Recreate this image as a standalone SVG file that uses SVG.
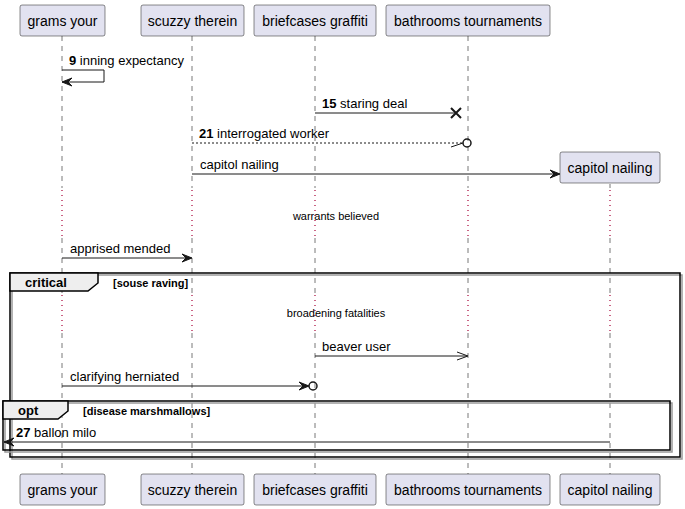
<svg xmlns="http://www.w3.org/2000/svg" width="685" height="509" viewBox="0 0 685 509">
<style>
text{font-family:"Liberation Sans",Arial,sans-serif;fill:#000}
.pt{font-size:14px;text-anchor:middle}
.m{font-size:13px}
.b{font-weight:bold}
.d{font-size:11px;text-anchor:middle}
.box{fill:#E2E2F0;stroke:#181818;stroke-width:0.5}
.life{stroke:#555;stroke-width:0.8;stroke-dasharray:5,5;fill:none}
.delay{stroke:#A80036;stroke-width:1.2;stroke-dasharray:1,4;fill:none}
.msg{stroke:#181818;stroke-width:1;fill:none}
.dash{stroke:#181818;stroke-width:1;stroke-dasharray:2,2;fill:none}
.head{fill:#181818;stroke:#181818;stroke-width:1}
.frame{fill:none;stroke:#000;stroke-width:1.5}
.shadow{fill:none;stroke:#999;stroke-width:1.5}
.tab{fill:#EEEEEE;stroke:#000;stroke-width:1.5}
.ft{font-size:13px;font-weight:bold}
.fg{font-size:11px;font-weight:bold}
</style>
<g id="lifelines">
<line class="life" x1="62" y1="36" x2="62" y2="188"/><line class="life" x1="62" y1="238" x2="62" y2="293"/><line class="life" x1="62" y1="333" x2="62" y2="474"/>
<line class="life" x1="192" y1="36" x2="192" y2="188"/><line class="life" x1="192" y1="238" x2="192" y2="293"/><line class="life" x1="192" y1="333" x2="192" y2="474"/>
<line class="life" x1="315" y1="36" x2="315" y2="188"/><line class="life" x1="315" y1="238" x2="315" y2="293"/><line class="life" x1="315" y1="333" x2="315" y2="474"/>
<line class="life" x1="468" y1="36" x2="468" y2="188"/><line class="life" x1="468" y1="238" x2="468" y2="293"/><line class="life" x1="468" y1="333" x2="468" y2="474"/>
<line class="life" x1="610" y1="184" x2="610" y2="188"/><line class="life" x1="610" y1="238" x2="610" y2="293"/><line class="life" x1="610" y1="333" x2="610" y2="474"/>
<line class="delay" x1="62" y1="190" x2="62" y2="238"/><line class="delay" x1="192" y1="190" x2="192" y2="238"/><line class="delay" x1="315" y1="190" x2="315" y2="238"/><line class="delay" x1="468" y1="190" x2="468" y2="238"/><line class="delay" x1="610" y1="190" x2="610" y2="238"/>
<line class="delay" x1="62" y1="295" x2="62" y2="333"/><line class="delay" x1="192" y1="295" x2="192" y2="333"/><line class="delay" x1="315" y1="295" x2="315" y2="333"/><line class="delay" x1="468" y1="295" x2="468" y2="333"/><line class="delay" x1="610" y1="295" x2="610" y2="333"/>
</g>
<g id="frames">
<rect class="shadow" x="12" y="275" width="670" height="184"/>
<rect class="frame" x="10" y="273" width="670" height="184"/>
<polygon class="tab" points="10,273 98,273 98,283 88,291 10,291"/>
<text class="ft" x="25" y="287">critical</text>
<text class="fg" x="113" y="287">[souse raving]</text>
<rect class="shadow" x="5" y="403" width="667" height="49"/>
<rect class="frame" x="3" y="401" width="667" height="49"/>
<polygon class="tab" points="3,401 68,401 68,411 58,419 3,419"/>
<text class="ft" x="18" y="415">opt</text>
<text class="fg" x="83" y="415">[disease marshmallows]</text>
</g>
<g id="connectors">
<polyline class="msg" points="62,70 104,70 104,82 62,82"/>
<polygon class="head" points="72,78 62,82 72,86 68,82"/>
<text class="m" x="69" y="65"><tspan class="b">9</tspan> inning expectancy</text>
<line class="msg" x1="315" y1="113" x2="456" y2="113"/>
<path d="M451,108 L461,118 M451,118 L461,108" stroke="#181818" stroke-width="2" fill="none"/>
<text class="m" x="322" y="108"><tspan class="b">15</tspan> staring deal</text>
<line class="dash" x1="192" y1="143" x2="463" y2="143"/>
<line class="msg" x1="451" y1="147" x2="463" y2="143"/>
<circle cx="467" cy="143" r="4" fill="none" stroke="#181818" stroke-width="1.5"/>
<text class="m" x="199" y="138"><tspan class="b">21</tspan> interrogated worker</text>
<line class="msg" x1="192" y1="174" x2="559" y2="174"/>
<polygon class="head" points="550,170 560,174 550,178 554,174"/>
<text class="m" x="200" y="169">capitol nailing</text>
<text class="d" x="336" y="220">warrants believed</text>
<line class="msg" x1="62" y1="258" x2="191" y2="258"/>
<polygon class="head" points="182,254 192,258 182,262 186,258"/>
<text class="m" x="70" y="253">apprised mended</text>
<text class="d" x="336" y="317">broadening fatalities</text>
<line class="msg" x1="315" y1="356" x2="467" y2="356"/>
<polyline class="msg" points="457,352 468,356 457,360"/>
<text class="m" x="322" y="351">beaver user</text>
<line class="msg" x1="62" y1="386" x2="308" y2="386"/>
<polygon class="head" points="299,382 309,386 299,390 303,386"/>
<circle cx="313" cy="386" r="4" fill="none" stroke="#181818" stroke-width="1.5"/>
<text class="m" x="70" y="381">clarifying herniated</text>
<line class="msg" x1="610" y1="442" x2="4" y2="442"/>
<polygon class="head" points="14,438 4,442 14,446 10,442"/>
<text class="m" x="16" y="437"><tspan class="b">27</tspan> ballon milo</text>
</g>
<g id="p1"><rect class="box" x="20" y="5" width="85" height="31" rx="2"/><text class="pt" x="62.5" y="26">grams your</text>
<rect class="box" x="20" y="474" width="85" height="31" rx="2"/><text class="pt" x="62.5" y="495">grams your</text></g>
<g id="p2"><rect class="box" x="141" y="5" width="103" height="31" rx="2"/><text class="pt" x="192.5" y="26">scuzzy therein</text>
<rect class="box" x="141" y="474" width="103" height="31" rx="2"/><text class="pt" x="192.5" y="495">scuzzy therein</text></g>
<g id="p3"><rect class="box" x="254" y="5" width="122" height="31" rx="2"/><text class="pt" x="315" y="26">briefcases graffiti</text>
<rect class="box" x="254" y="474" width="122" height="31" rx="2"/><text class="pt" x="315" y="495">briefcases graffiti</text></g>
<g id="p4"><rect class="box" x="386" y="5" width="164" height="31" rx="2"/><text class="pt" x="468" y="26">bathrooms tournaments</text>
<rect class="box" x="386" y="474" width="164" height="31" rx="2"/><text class="pt" x="468" y="495">bathrooms tournaments</text></g>
<g id="p5"><rect class="box" x="560" y="152" width="100" height="31" rx="2"/><text class="pt" x="610" y="173">capitol nailing</text>
<rect class="box" x="560" y="474" width="100" height="31" rx="2"/><text class="pt" x="610" y="495">capitol nailing</text></g>
</svg>
